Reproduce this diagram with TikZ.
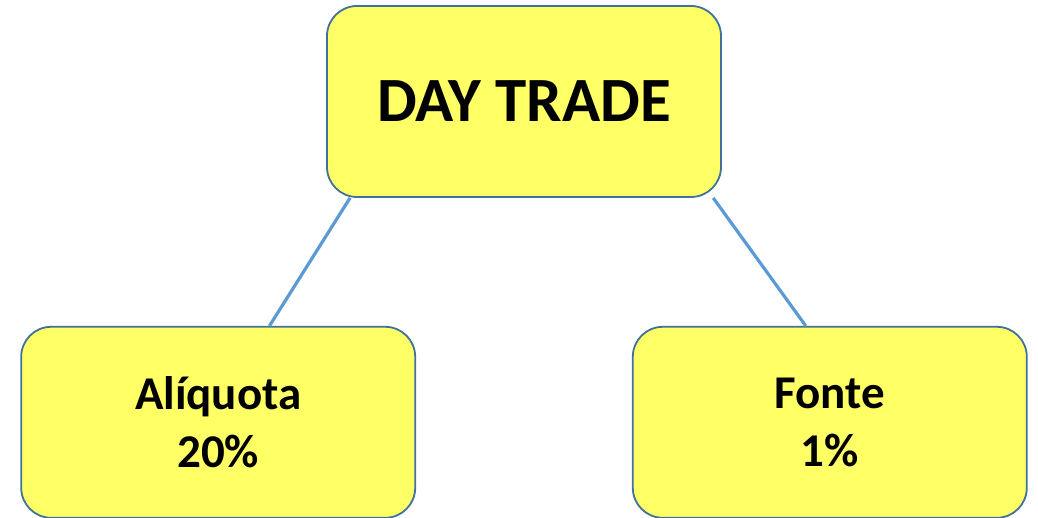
\documentclass[tikz,border=0pt]{standalone}
\usepackage{fontspec}
\setmainfont{Carlito}
\usetikzlibrary{positioning}

\definecolor{boxfill}{HTML}{FFFF66}
\definecolor{boxline}{HTML}{41719C}
\definecolor{linkline}{HTML}{5B9BD5}

\tikzset{
  taxbox/.style={draw=boxline, line width=1.8pt, fill=boxfill, rounded corners=30pt,
    minimum width=394pt, minimum height=191pt, align=center, inner sep=0pt,
    font=\bfseries\fontsize{47}{58}\selectfont},
  link/.style={draw=linkline, line width=3.2pt}
}

\begin{document}
\begin{tikzpicture}[x=1pt,y=-1pt]
    \useasboundingbox (0,0) rectangle (1038,518);
    \node[taxbox, font=\bfseries\fontsize{63}{70}\selectfont] (day trade) at (524,101.5) {DAY TRADE};
    \node[taxbox, below left=128pt and -90pt of day trade] (aliquota) {Alíquota\\20\%};
    \node[taxbox, below right=128pt and -90pt of day trade] (fonte) {Fonte\\1\%};
    \draw[link] (day trade.-151.5) -- (aliquota.62.6);
    \draw[link] (day trade.-27.2) -- (fonte.104);
  \end{tikzpicture}
\end{document}
